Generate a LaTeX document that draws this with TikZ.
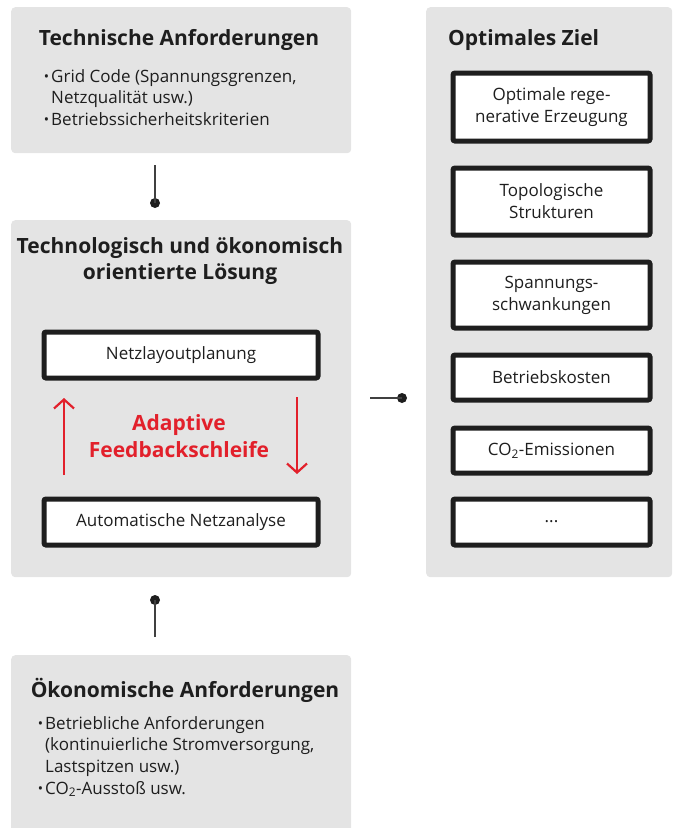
\documentclass[tikz,border=0pt]{standalone}
\usepackage{fontspec}
\setmainfont{Open Sans}
\usetikzlibrary{arrows.meta}
\definecolor{panel}{HTML}{E4E4E4}
\definecolor{ink}{HTML}{1E1E1E}
\definecolor{loopred}{HTML}{E2202B}
\tikzset{
  panelbox/.style={fill=panel, draw=none, rounded corners=4pt, anchor=north west, inner sep=0pt},
  itembox/.style={fill=white, draw=ink, line width=5pt, rounded corners=2pt, anchor=north west, inner sep=0pt},
  heading/.style={font=\fontsize{21}{26}\selectfont\bfseries, text=ink, align=center, inner sep=0pt},
  bodytext/.style={font=\fontsize{17}{21.6}\selectfont, text=ink, align=left, inner sep=0pt, anchor=north west},
  itemtext/.style={font=\fontsize{17}{22}\selectfont, text=ink, align=center, inner sep=0pt},
  redtext/.style={font=\fontsize{21}{27}\selectfont\bfseries, text=loopred, align=center, inner sep=0pt},
  link/.style={draw=ink!85, line width=1.4pt},
  dot/.style={circle, fill=ink, inner sep=0pt, minimum size=10pt},
  loop/.style={draw=loopred, line width=2.2pt, -{Straight Barb[length=9pt,width=20pt,line width=2.2pt]}}
}
\newcommand{\bul}{\llap{\raisebox{0.8pt}{\fontsize{14}{14}\selectfont\textbullet}\hspace{2pt}}}
\begin{document}
\begin{tikzpicture}[x=1pt, y=-1pt]
\useasboundingbox (0,0) rectangle (680,828);

% panels
\node[panelbox, minimum width=340pt, minimum height=146pt] (tech) at (11,7) {};
\node[panelbox, minimum width=340pt, minimum height=357pt] (sol) at (11,220) {};
\node[panelbox, minimum width=246pt, minimum height=570pt] (goal) at (426,7) {};
\node[panelbox, minimum width=340pt, minimum height=190pt] (eco) at (11,655) {};

% technical requirements
\node[heading, anchor=base] (techtitle) at (179,45) {Technische Anforderungen};
\node[bodytext] (techlist) at (51,69) {\bul Grid Code (Spannungsgrenzen,\\Netzqualität usw.)\\\bul Betriebssicherheitskriterien};

% solution panel
\node[heading, font=\fontsize{21}{26.5}\selectfont\bfseries] (soltitle) at (180,261) {Technologisch und ökonomisch\\orientierte Lösung};
\node[itembox, minimum width=274pt, minimum height=46pt] (plan) at (41.5,329.5) {};
\node[itemtext] at (plan.center) {Netzlayoutplanung};
\node[itembox, minimum width=274pt, minimum height=46pt] (ana) at (41.5,496.5) {};
\node[itemtext] at (ana.center) {Automatische Netzanalyse};
\node[redtext] (fb) at (179,436) {Adaptive\\Feedbackschleife};
\coordinate (upS) at (64,475);
\coordinate (upE) at (64,398);
\coordinate (dnS) at (297,397);
\coordinate (dnE) at (297,474);
\draw[loop] (upS) -- (upE);
\draw[loop] (dnS) -- (dnE);

% goal panel
\node[heading, anchor=base west] (goaltitle) at (448,45) {Optimales Ziel};
\node[itembox, minimum width=197pt, minimum height=68pt] (g1) at (450.5,70.5) {};
\node[itemtext] at (g1.center) {Optimale rege-\\nerative Erzeugung};
\node[itembox, minimum width=197pt, minimum height=67pt] (g2) at (450.5,165.5) {};
\node[itemtext] at (g2.center) {Topologische\\Strukturen};
\node[itembox, minimum width=197pt, minimum height=66pt] (g3) at (450.5,259.5) {};
\node[itemtext] at (g3.center) {Spannungs-\\schwankungen};
\node[itembox, minimum width=197pt, minimum height=45pt] (g4) at (450.5,352.5) {};
\node[itemtext] at (g4.center) {Betriebskosten};
\node[itembox, minimum width=197pt, minimum height=45pt] (g5) at (450.5,425.5) {};
\node[itemtext] at (g5.center) {CO\textsubscript{2}-Emissionen};
\node[itembox, minimum width=197pt, minimum height=46pt] (g6) at (450.5,496.5) {};
\node[itemtext] at (g6.center) {...};

% economic requirements
\node[heading, anchor=base] (ecotitle) at (185,697) {Ökonomische Anforderungen};
\node[bodytext] (ecolist) at (45,716) {\bul Betriebliche Anforderungen\\(kontinuierliche Stromversorgung,\\Lastspitzen usw.)\\\bul CO\textsubscript{2}-Ausstoß usw.};

% connectors
\coordinate (l1) at (155,165);
\node[dot] (d1) at (155,203) {};
\draw[link] (l1) -- (d1.center);
\coordinate (l2) at (155,637);
\node[dot] (d2) at (155,600) {};
\draw[link] (l2) -- (d2.center);
\coordinate (l3) at (370,398);
\node[dot] (d3) at (402,398) {};
\draw[link] (l3) -- (d3.center);
\end{tikzpicture}
\end{document}
